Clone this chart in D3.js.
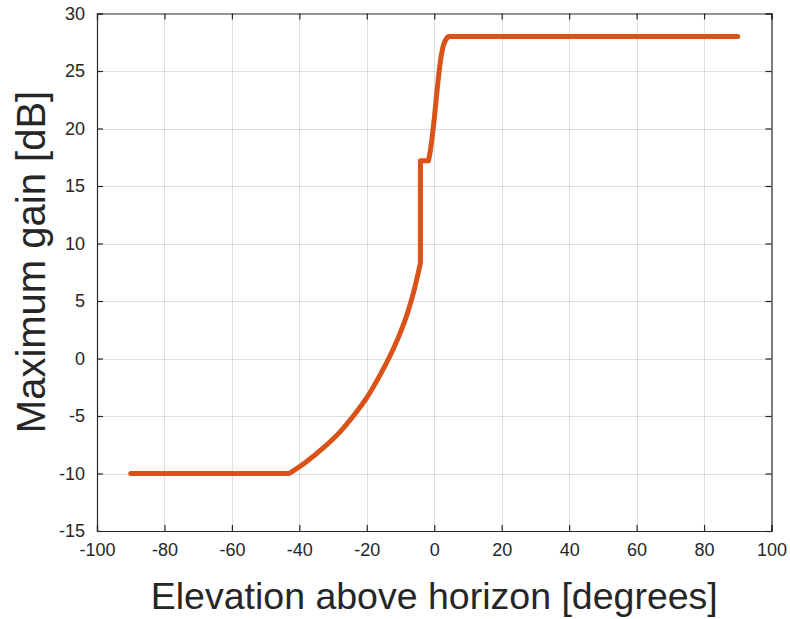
<!DOCTYPE html>
<html>
<head>
<meta charset="utf-8">
<script src="https://cdn.jsdelivr.net/npm/d3@7"></script>
<style>
  body { margin: 0; background: #fff; }
  svg { display: block; }
  text { font-family: "Liberation Sans", Arial, Helvetica, sans-serif; fill: #262626; }
</style>
</head>
<body>
<svg id="chart" width="790" height="619"></svg>
<script>
// Data
const elevation = [-90, -43, -38, -33, -28, -24, -20, -16, -13, -10, -8, -6, -4.1, -4.1, -1.7, -1.2, -0.2, 0.8, 1.8, 2.8, 4.2, 90];
const gain      = [-10, -10, -9.0, -7.8, -6.4, -5.0, -3.4, -1.4, 0.3, 2.3, 3.9, 5.9, 8.3, 17.2, 17.2, 18, 20.3, 23.2, 25.8, 27.3, 28, 28];
const xTicks = [-100, -80, -60, -40, -20, 0, 20, 40, 60, 80, 100];
const yTicks = [-15, -10, -5, 0, 5, 10, 15, 20, 25, 30];
const xLabel = "Elevation above horizon [degrees]";
const yLabel = "Maximum gain [dB]";

const svg = d3.select("#chart");
const L = 97, T = 13.5, R = 771.5, B = 531;
const x = d3.scaleLinear().domain([-100, 100]).range([L, R]);
const y = d3.scaleLinear().domain([-15, 30]).range([B, T]);
const axisCol = "#262626";

// grid
const g = svg.append("g");
g.selectAll(".gx").data(xTicks.slice(1, -1)).enter().append("line")
  .attr("x1", d => Math.round(x(d)) + 0.5).attr("x2", d => Math.round(x(d)) + 0.5)
  .attr("y1", T).attr("y2", B).attr("stroke", "#262626").attr("stroke-opacity", 0.15).attr("stroke-width", 1);
g.selectAll(".gy").data(yTicks.slice(1, -1)).enter().append("line")
  .attr("y1", d => Math.round(y(d)) + 0.5).attr("y2", d => Math.round(y(d)) + 0.5)
  .attr("x1", L).attr("x2", R).attr("stroke", "#262626").attr("stroke-opacity", 0.15).attr("stroke-width", 1);

// data line: smooth pieces drawn with monotone interpolation, straight pieces linear
const pts = elevation.map((e, i) => [e, gain[i]]);
const lin = d3.line().x(d => x(d[0])).y(d => y(d[1]));
const mono = d3.line().x(d => x(d[0])).y(d => y(d[1])).curve(d3.curveMonotoneX);
const pieces = [
  [lin, pts.slice(0, 2)],
  [mono, pts.slice(1, 13)],
  [lin, pts.slice(12, 15)],
  [mono, pts.slice(14, 21)],
  [lin, pts.slice(20)]
];
const dStr = pieces.map(([gen, p], i) => {
  const s = gen(p);
  return i === 0 ? s : s.replace(/^M[^LC]*/, "");
}).join("");
svg.append("path")
  .attr("d", dStr)
  .attr("fill", "none").attr("stroke", "#D95319").attr("stroke-width", 5)
  .attr("stroke-linejoin", "round").attr("stroke-linecap", "round");

// axes
const tickLen = 6;
const fmt = d => String(d);
const xAxisB = d3.axisBottom(x).tickValues(xTicks).tickSize(-tickLen).tickPadding(12).tickFormat(fmt);
const xAxisT = d3.axisTop(x).tickValues(xTicks).tickSize(-tickLen).tickFormat("");
const yAxisL = d3.axisLeft(y).tickValues(yTicks).tickSize(-tickLen).tickPadding(12).tickFormat(fmt);
const yAxisR = d3.axisRight(y).tickValues(yTicks).tickSize(-tickLen).tickFormat("");

function style(sel) {
  sel.select(".domain").attr("stroke", axisCol).attr("stroke-width", 1.2);
  sel.selectAll(".tick line").attr("stroke", axisCol).attr("stroke-width", 1.2);
  sel.selectAll(".tick text").attr("fill", axisCol).style("font-size", "18px")
     .style("font-family", '"Liberation Sans", Arial, sans-serif');
}
svg.append("g").attr("transform", `translate(0,${B})`).call(xAxisB).call(style);
svg.append("g").attr("transform", `translate(0,${T})`).call(xAxisT).call(style);
svg.append("g").attr("transform", `translate(${L},0)`).call(yAxisL).call(style);
svg.append("g").attr("transform", `translate(${R},0)`).call(yAxisR).call(style);

// labels
svg.append("text").attr("x", (L + R) / 2).attr("y", 609).attr("text-anchor", "middle")
  .style("font-size", "37.5px").text(xLabel);
svg.append("text").attr("transform", `translate(45,262) rotate(-90)`).attr("text-anchor", "middle")
  .style("font-size", "40px").text(yLabel);
</script>
</body>
</html>
